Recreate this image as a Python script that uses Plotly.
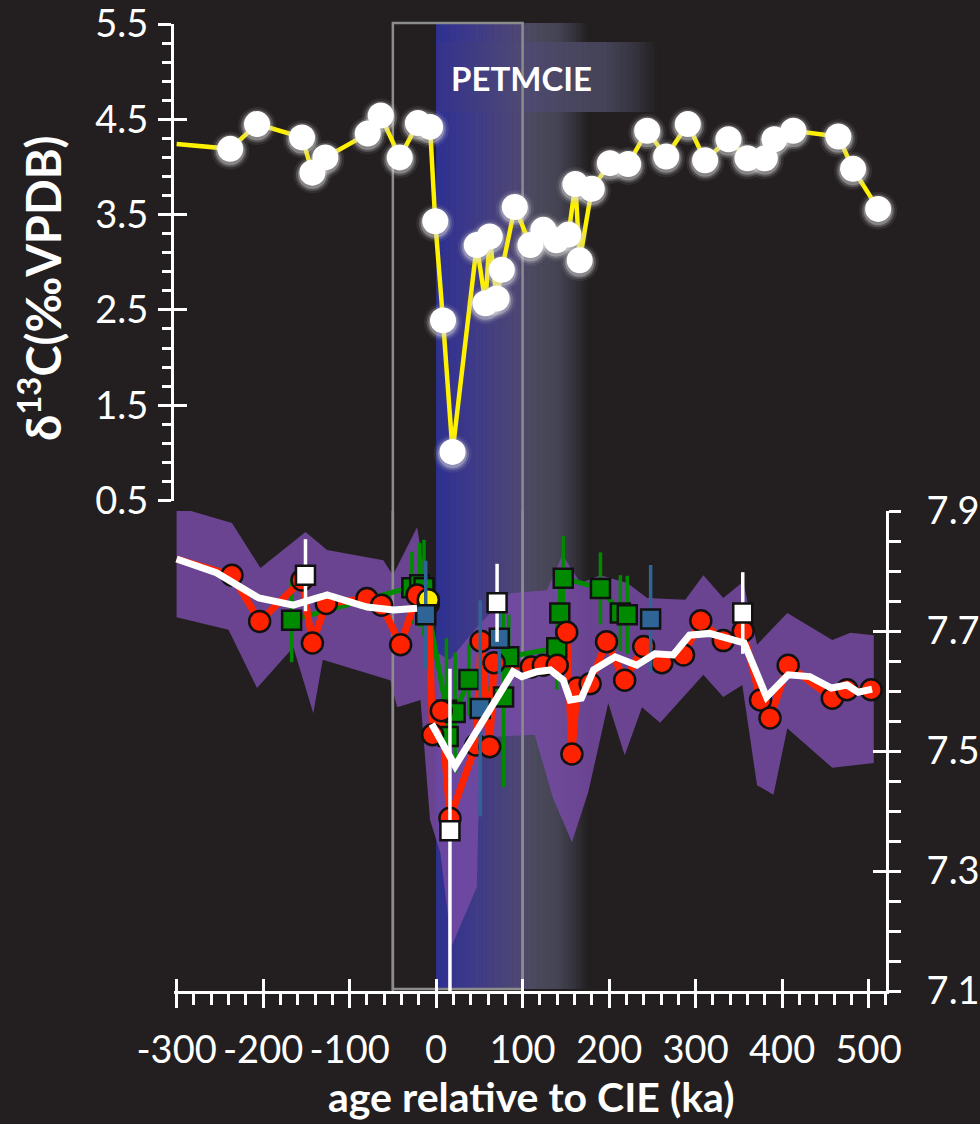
import plotly.graph_objects as go

# ---------------- data ----------------
# upper panel: bulk carbonate d13C (permil VPDB)
D13C_AGE = [-300, -238, -207, -155, -143, -128, -79, -64, -42, -21, -7, -1, 8, 19, 47, 57, 62, 70, 76, 91,
            109, 124, 139, 153, 161, 166, 180, 201, 222, 244, 266, 291, 311, 338, 360, 380, 391, 413, 465, 482, 511]
D13C = [4.24, 4.19, 4.45, 4.31, 3.94, 4.10, 4.35, 4.54, 4.10, 4.46, 4.42, 3.43, 2.39, 1.01, 3.18, 2.57, 3.27, 2.62, 2.92, 3.58,
        3.18, 3.34, 3.23, 3.29, 3.82, 3.02, 3.77, 4.04, 4.03, 4.38, 4.11, 4.45, 4.07, 4.29, 4.09, 4.09, 4.29, 4.38, 4.32, 3.98, 3.56]

# lower panel: pH records
RED_AGE = [-300, -236, -204, -155, -143, -127, -80, -63, -41, -22, -9, -4, 6, 16, 46, 52, 62, 67, 110, 124,
           140, 151, 157, 163, 178, 197, 218, 240, 261, 286, 306, 332, 355, 375, 386, 407, 458, 475, 503]
RED_PH = [7.82, 7.793, 7.716, 7.785, 7.68, 7.746, 7.754, 7.743, 7.677, 7.76, 7.745, 7.527, 7.567, 7.388, 7.51, 7.683, 7.507, 7.647, 7.64, 7.643,
          7.643, 7.698, 7.495, 7.605, 7.612, 7.682, 7.618, 7.674, 7.647, 7.66, 7.717, 7.684, 7.70, 7.585, 7.555, 7.643, 7.588, 7.602, 7.602]

GREEN_AGE = [-167, -28, -19, -14, 12, 14, 22, 38, 78, 84, 139.5, 143, 147, 190, 213, 221]
GREEN_PH = [7.718, 7.772, 7.777, 7.772, 7.568, 7.524, 7.564, 7.619, 7.59, 7.657, 7.672, 7.73, 7.788, 7.771, 7.73, 7.727]
GREEN_ERR = [0.07, 0.06, 0.07, 0.08, 0.12, 0.10, 0.10, 0.06, 0.15, 0.07, 0.07, 0.07, 0.07, 0.06, 0.063, 0.065]

BLUE_AGE = [-12, 51, 73, 248]
BLUE_PH = [7.727, 7.571, 7.688, 7.72]
BLUE_ERR = [0.09, 0.18, 0.06, 0.09]

WHITE_AGE = [-151, 16, 70.5, 354.5]
WHITE_PH = [7.793, 7.367, 7.747, 7.73]
WHITE_ERR = [0.06, 0.27, 0.065, 0.068]

YELLOW_AGE = [-9]
YELLOW_PH = [7.752]

MEAN_AGE = [-300, -254, -205, -165, -126, -80, -49, -22, None, -5, 22, 89, 99, 116, 132, 147, 155, 168, 182,
            207, 232, 253, 274, 293, 316, 336, 356, 382, 407, 432, 457, 475, 488, 504]
MEAN_PH = [7.82, 7.797, 7.755, 7.743, 7.76, 7.74, 7.735, 7.738, None, 7.545, 7.475, 7.632, 7.624, 7.632, 7.635, 7.618, 7.585, 7.588, 7.635,
           7.657, 7.643, 7.662, 7.66, 7.693, 7.696, 7.688, 7.68, 7.59, 7.627, 7.624, 7.605, 7.61, 7.598, 7.603]

BAND_UP_AGE = [-300, -236, -203, -151, -126, -61, -50, -22, -10, 2, 16, 51, 86, 128, 146, 167, 190, 221, 244, 288,
               309, 332, 355, 371, 406, 458, 479, 506]
BAND_UP = [7.907, 7.88, 7.805, 7.865, 7.835, 7.818, 7.793, 7.873, 7.768, 7.663, 7.652, 7.713, 7.763, 7.768, 7.827, 7.78, 7.793, 7.78, 7.755, 7.752,
           7.793, 7.755, 7.782, 7.677, 7.73, 7.685, 7.697, 7.693]
BAND_LO_AGE = [-300, -240, -207, -165, -142, -131, -53, -45, -18, -7, 5, 18, 47, 51, 114, 135, 157, 176, 199, 218,
               238, 259, 309, 332, 354, 371, 390, 406, 458, 506]
BAND_LO = [7.723, 7.702, 7.605, 7.673, 7.563, 7.652, 7.618, 7.573, 7.585, 7.385, 7.33, 7.175, 7.273, 7.523, 7.527, 7.422, 7.348, 7.432, 7.58, 7.493,
           7.573, 7.547, 7.627, 7.59, 7.61, 7.443, 7.427, 7.538, 7.472, 7.48]

X_TICKS = [-300, -200, -100, 0, 100, 200, 300, 400, 500]
X_TICK_LABELS = ["-300", "-200", "-100", "0", "100", "200", "300", "400", "500"]
Y1_TICKS = [0.5, 1.5, 2.5, 3.5, 4.5, 5.5]
Y1_TICK_LABELS = ["0.5", "1.5", "2.5", "3.5", "4.5", "5.5"]
Y2_TICKS = [7.1, 7.3, 7.5, 7.7, 7.9]
Y2_TICK_LABELS = ["7.1", "7.3", "7.5", "7.7", "7.9"]

PETM_WINDOW = (-50, 100)

# ---------------- view / style ----------------
BG = "#231f20"
X_RANGE = [-303, 520.1]
Y1_RANGE = [0.5, 5.5]
Y2_RANGE = [7.1, 7.9]
FONT = "Lato"
TICKFONT = dict(family=FONT, size=38, color="white")

fig = go.Figure()

# purple uncertainty band
fig.add_trace(go.Scatter(
    x=BAND_UP_AGE + BAND_LO_AGE[::-1], y=BAND_UP + BAND_LO[::-1],
    xaxis="x", yaxis="y2", mode="lines", fill="toself",
    fillcolor="rgba(118,75,164,0.86)", line=dict(width=0), hoverinfo="skip", showlegend=False))

# PETM window edges over the band (lower panel)
fig.add_trace(go.Scatter(
    x=[PETM_WINDOW[0], PETM_WINDOW[0], None, PETM_WINDOW[1], PETM_WINDOW[1]],
    y=[Y2_RANGE[0], Y2_RANGE[1], None, Y2_RANGE[0], Y2_RANGE[1]],
    xaxis="x", yaxis="y2", mode="lines", line=dict(color="#8c8c8c", width=2.5),
    hoverinfo="skip", showlegend=False))

# green line + error bars
fig.add_trace(go.Scatter(
    x=GREEN_AGE, y=GREEN_PH, xaxis="x", yaxis="y2", mode="lines",
    line=dict(color="#008a00", width=5),
    error_y=dict(type="data", array=GREEN_ERR, color="#008a00", thickness=3.5, width=0),
    showlegend=False))

# red line
fig.add_trace(go.Scatter(
    x=RED_AGE, y=RED_PH, xaxis="x", yaxis="y2", mode="lines",
    line=dict(color="#ff2200", width=7), showlegend=False))

# green markers
fig.add_trace(go.Scatter(
    x=GREEN_AGE, y=GREEN_PH, xaxis="x", yaxis="y2", mode="markers",
    marker=dict(symbol="square", size=19, color="#008a00", line=dict(color="#111", width=2.5)),
    showlegend=False))

# red markers
fig.add_trace(go.Scatter(
    x=RED_AGE[1:], y=RED_PH[1:], xaxis="x", yaxis="y2", mode="markers", cliponaxis=False,
    marker=dict(symbol="circle", size=21, color="#ff2200", line=dict(color="#111", width=2.5)),
    showlegend=False))

# yellow marker
fig.add_trace(go.Scatter(
    x=YELLOW_AGE, y=YELLOW_PH, xaxis="x", yaxis="y2", mode="markers",
    marker=dict(symbol="circle", size=21, color="#ffee00", line=dict(color="#111", width=2.5)),
    showlegend=False))

# blue markers + error bars
fig.add_trace(go.Scatter(
    x=BLUE_AGE, y=BLUE_PH, xaxis="x", yaxis="y2", mode="markers",
    marker=dict(symbol="square", size=19, color="#2f6496", line=dict(color="#111", width=2.5)),
    error_y=dict(type="data", array=BLUE_ERR, color="#2f6496", thickness=3.5, width=0),
    showlegend=False))

# white running mean
fig.add_trace(go.Scatter(
    x=MEAN_AGE, y=MEAN_PH, xaxis="x", yaxis="y2", mode="lines",
    line=dict(color="white", width=7), connectgaps=False, showlegend=False))

# white squares + error bars
fig.add_trace(go.Scatter(
    x=WHITE_AGE, y=WHITE_PH, xaxis="x", yaxis="y2", mode="markers",
    marker=dict(symbol="square", size=19, color="white", line=dict(color="#111", width=2.5)),
    error_y=dict(type="data", array=WHITE_ERR, color="white", thickness=3.5, width=0),
    showlegend=False))

# upper panel: yellow line, glow, white circles
fig.add_trace(go.Scatter(
    x=D13C_AGE, y=D13C, xaxis="x", yaxis="y", mode="lines",
    line=dict(color="#fff200", width=4.5), showlegend=False))
for sz, col in [(38, "rgba(190,190,190,0.10)"), (33, "rgba(210,210,210,0.22)"), (29, "rgba(230,230,230,0.35)")]:
    fig.add_trace(go.Scatter(
        x=D13C_AGE[1:], y=[v - 0.02 for v in D13C[1:]], xaxis="x", yaxis="y", mode="markers",
        cliponaxis=False,
        marker=dict(size=sz, color=col, line=dict(width=0)), hoverinfo="skip", showlegend=False))
fig.add_trace(go.Scatter(
    x=D13C_AGE[1:], y=D13C[1:], xaxis="x", yaxis="y", mode="markers", cliponaxis=False,
    marker=dict(size=26, color="white", line=dict(width=0)), showlegend=False))

# dummy traces so overlay axes (inner tick halves) are drawn
fig.add_trace(go.Scatter(x=[0], y=[3], xaxis="x", yaxis="y3", mode="markers",
                         marker=dict(opacity=0), hoverinfo="skip", showlegend=False))
fig.add_trace(go.Scatter(x=[0], y=[7.5], xaxis="x2", yaxis="y4", mode="markers",
                         marker=dict(opacity=0), hoverinfo="skip", showlegend=False))

# ---------------- CIE gradient band (decoration) ----------------
def lerp_color(stops, t):
    for (t0, c0), (t1, c1) in zip(stops[:-1], stops[1:]):
        if t0 <= t <= t1:
            f = 0 if t1 == t0 else (t - t0) / (t1 - t0)
            return "rgb(%d,%d,%d)" % tuple(round(a + (b - a) * f) for a, b in zip(c0, c1))
    return "rgb(%d,%d,%d)" % stops[-1][1]

band_stops = [(0, (46, 49, 146)), (40, (62, 58, 138)), (100, (80, 73, 114)), (112, (76, 74, 94)),
              (140, (70, 69, 84)), (160, (52, 50, 60)), (176, (35, 31, 32))]
box_stops = [(0, (52, 50, 142)), (100, (80, 74, 116)), (150, (74, 71, 98)), (195, (70, 68, 88)),
             (228, (55, 53, 64)), (256, (35, 31, 32))]

shapes = []
PLOT_BOTTOM, PLOT_H = 991, 967
def py2paper(py):
    return (PLOT_BOTTOM - py) / PLOT_H

step = 2.0
a = 0.0
while a < 176:
    shapes.append(dict(type="rect", xref="x", yref="paper", x0=a, x1=a + step + 0.6,
                       y0=py2paper(989), y1=py2paper(23), fillcolor=lerp_color(band_stops, a + step / 2),
                       line=dict(width=0), layer="below"))
    a += step
a = 0.0
while a < 256:
    shapes.append(dict(type="rect", xref="x", yref="paper", x0=a, x1=a + step + 0.6,
                       y0=py2paper(112), y1=py2paper(42), fillcolor=lerp_color(box_stops, a + step / 2),
                       line=dict(width=0), layer="below"))
    a += step
shapes.append(dict(type="rect", xref="x", yref="paper", x0=PETM_WINDOW[0], x1=PETM_WINDOW[1],
                   y0=py2paper(989), y1=py2paper(23), line=dict(color="#8c8c8c", width=2.5),
                   fillcolor="rgba(0,0,0,0)", layer="below"))

annotations = [
    dict(text="<b>PETMCIE</b>", xref="x", yref="paper", x=99, y=py2paper(78), showarrow=False,
         font=dict(family=FONT, size=33, color="white"), xanchor="center", yanchor="middle"),
    dict(text="<b>age relative to CIE (ka)</b>", xref="paper", yref="paper", x=(531 - 174) / 712,
         y=py2paper(1096), showarrow=False, font=dict(family=FONT, size=41, color="white"),
         xanchor="center", yanchor="middle"),
    dict(text="<b>δ<sup>13</sup>C(‰VPDB)</b>", xref="paper", yref="paper", x=(40 - 174) / 712,
         y=py2paper(288), showarrow=False, textangle=-90, font=dict(family=FONT, size=47, color="white"),
         xanchor="center", yanchor="middle"),
]

axis_common = dict(showgrid=False, zeroline=False, color="white", automargin=False)

fig.update_layout(
    width=980, height=1124,
    margin=dict(l=174, r=94, t=24, b=133, autoexpand=False),
    paper_bgcolor=BG, plot_bgcolor=BG,
    showlegend=False,
    shapes=shapes, annotations=annotations,
    xaxis=dict(range=X_RANGE, anchor="y2", showline=True, linecolor="white", linewidth=3,
               ticks="outside", ticklen=14, tickwidth=3, tickcolor="white",
               tickmode="array", tickvals=X_TICKS, ticktext=X_TICK_LABELS, tickfont=TICKFONT,
               ticklabelstandoff=9, ticklabeloverflow="allow",
               minor=dict(tickmode="linear", tick0=0, dtick=20, ticks="outside", ticklen=11,
                          tickwidth=2.5, tickcolor="white"),
               **axis_common),
    xaxis2=dict(range=X_RANGE, overlaying="x", anchor="y2", side="bottom", showline=False,
                ticks="inside", ticklen=12, tickwidth=3, tickcolor="white",
                tickmode="array", tickvals=X_TICKS, showticklabels=False, **axis_common),
    yaxis=dict(domain=[py2paper(500.5), 1.0], range=Y1_RANGE, anchor="x", side="left",
               showline=True, linecolor="white", linewidth=3,
               ticks="outside", ticklen=13, tickwidth=3, tickcolor="white",
               tickmode="array", tickvals=Y1_TICKS, ticktext=Y1_TICK_LABELS, tickfont=TICKFONT,
               ticklabelstandoff=2, ticklabeloverflow="allow",
               minor=dict(tickmode="linear", tick0=0.5, dtick=0.2, ticks="outside", ticklen=9,
                          tickwidth=2.5, tickcolor="white"),
               **axis_common),
    yaxis3=dict(range=Y1_RANGE, overlaying="y", anchor="x", side="left", showline=False,
                ticks="inside", ticklen=13, tickwidth=3, tickcolor="white",
                tickmode="array", tickvals=Y1_TICKS, showticklabels=False, **axis_common),
    yaxis2=dict(domain=[0, py2paper(511)], range=Y2_RANGE, anchor="x", side="right",
                showline=True, linecolor="white", linewidth=3,
                ticks="outside", ticklen=12, tickwidth=3, tickcolor="white",
                tickmode="array", tickvals=Y2_TICKS, ticktext=Y2_TICK_LABELS, tickfont=TICKFONT,
                ticklabelstandoff=18, ticklabeloverflow="allow",
                minor=dict(tickmode="linear", tick0=7.1, dtick=0.05, ticks="outside", ticklen=12,
                           tickwidth=2.5, tickcolor="white"),
                **axis_common),
    yaxis4=dict(range=Y2_RANGE, overlaying="y2", anchor="x", side="right", showline=False,
                ticks="inside", ticklen=13, tickwidth=3, tickcolor="white",
                tickmode="array", tickvals=Y2_TICKS, showticklabels=False, **axis_common),
)

fig.write_html("out.html")
